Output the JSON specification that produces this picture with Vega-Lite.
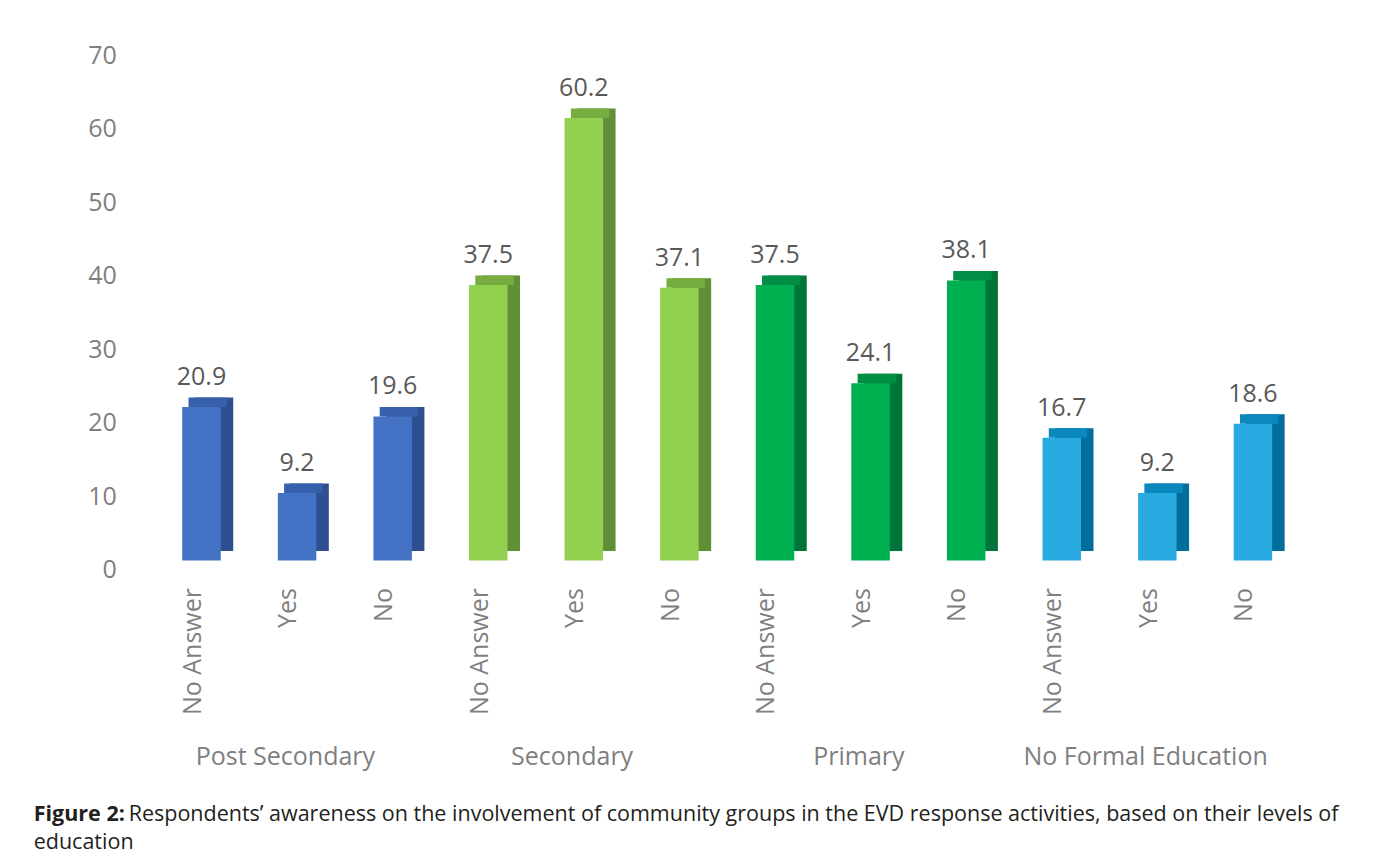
{
  "$schema": "https://vega.github.io/schema/vega-lite/v6.json",
  "width": 1147,
  "height": 514.5,
  "padding": {"left": 33, "top": 43, "right": 10, "bottom": 10},
  "background": "white",
  "config": {"view": {"stroke": null}, "font": "Open Sans"},
  "title": {
    "text": "Figure 2:",
    "subtitle": ["\u200b\u00a0\u00a0\u00a0\u00a0\u00a0\u00a0\u00a0\u00a0\u00a0\u00a0\u00a0\u00a0\u00a0\u00a0\u00a0\u00a0\u00a0Respondents’ awareness on the involvement of community groups in the EVD response activities, based on their levels of", "education"],
    "orient": "bottom",
    "anchor": "start",
    "frame": "bounds",
    "font": "Open Sans",
    "fontSize": 21.5,
    "fontWeight": "bold",
    "color": "#231F20",
    "subtitleFont": "Open Sans",
    "subtitleFontSize": 21.5,
    "subtitleFontWeight": "normal",
    "subtitleColor": "#231F20",
    "subtitlePadding": -21.5,
    "subtitleLineHeight": 28,
    "offset": 35,
    "dx": -54
  },
  "data": {
    "values": [
      {"bar": "Post Secondary: No Answer", "group": "Post Secondary", "answer": "No Answer", "value": 20.9},
      {"bar": "Post Secondary: Yes", "group": "Post Secondary", "answer": "Yes", "value": 9.2},
      {"bar": "Post Secondary: No", "group": "Post Secondary", "answer": "No", "value": 19.6},
      {"bar": "Secondary: No Answer", "group": "Secondary", "answer": "No Answer", "value": 37.5},
      {"bar": "Secondary: Yes", "group": "Secondary", "answer": "Yes", "value": 60.2},
      {"bar": "Secondary: No", "group": "Secondary", "answer": "No", "value": 37.1},
      {"bar": "Primary: No Answer", "group": "Primary", "answer": "No Answer", "value": 37.5},
      {"bar": "Primary: Yes", "group": "Primary", "answer": "Yes", "value": 24.1},
      {"bar": "Primary: No", "group": "Primary", "answer": "No", "value": 38.1},
      {"bar": "No Formal Education: No Answer", "group": "No Formal Education", "answer": "No Answer", "value": 16.7},
      {"bar": "No Formal Education: Yes", "group": "No Formal Education", "answer": "Yes", "value": 9.2},
      {"bar": "No Formal Education: No", "group": "No Formal Education", "answer": "No", "value": 18.6}
    ]
  },
  "encoding": {
    "y": {
      "field": "value",
      "type": "quantitative",
      "scale": {"domain": [0, 70], "nice": false, "zero": true},
      "axis": {
        "title": null,
        "values": [0, 10, 20, 30, 40, 50, 60, 70],
        "grid": false,
        "domain": false,
        "ticks": false,
        "tickSize": 0,
        "labelPadding": 43.7,
        "labelOffset": 9,
        "labelFont": "Open Sans",
        "labelFontSize": 25,
        "labelColor": "#7F7F7F"
      }
    }
  },
  "layer": [
    {
      "mark": {"type": "bar", "width": 38.5, "xOffset": 6.2, "yOffset": -9.5, "y2Offset": -9.5},
      "encoding": {
        "x": {"field": "bar", "type": "nominal", "sort": null, "scale": {"paddingInner": 0, "paddingOuter": 0}, "axis": null},
        "color": {
          "field": "group", "type": "nominal", "legend": null,
          "scale": {"domain": ["Post Secondary", "Secondary", "Primary", "No Formal Education"], "range": ["#2E5090", "#5F8F36", "#00753A", "#006E9C"]}
        }
      }
    },
    {
      "mark": {"type": "bar", "width": 38.5, "xOffset": 0, "yOffset": -9.5, "y2Offset": 0},
      "encoding": {
        "x": {"field": "bar", "type": "nominal", "sort": null, "scale": {"paddingInner": 0, "paddingOuter": 0}, "axis": null},
        "y2": {"field": "value"},
        "color": {
          "field": "group", "type": "nominal", "legend": null,
          "scale": {"domain": ["Post Secondary", "Secondary", "Primary", "No Formal Education"], "range": ["#3760AC", "#76AC40", "#008E45", "#0A88BE"]}
        }
      }
    },
    {
      "mark": {"type": "bar", "width": 38.5, "xOffset": -6.3},
      "encoding": {
        "x": {
          "field": "bar", "type": "nominal", "sort": null,
          "scale": {"paddingInner": 0, "paddingOuter": 0},
          "axis": {
            "orient": "bottom",
            "title": null,
            "domain": false,
            "ticks": false,
            "tickSize": 0,
            "labelAngle": -90,
            "labelPadding": 27,
            "labelOffset": -15,
            "labelFont": "Open Sans",
            "labelFontSize": 25,
            "labelColor": "#7F7F7F",
            "labelOverlap": false,
            "labelBound": false,
            "labelExpr": "split(datum.label, ': ')[1]"
          }
        },
        "color": {
          "field": "group", "type": "nominal", "legend": null,
          "scale": {"domain": ["Post Secondary", "Secondary", "Primary", "No Formal Education"], "range": ["#4472C4", "#92D050", "#00B050", "#29ABE2"]}
        }
      }
    },
    {
      "mark": {"type": "text", "xOffset": -6.3, "dy": -22, "baseline": "alphabetic", "align": "center", "font": "Open Sans", "fontSize": 25, "color": "#595959"},
      "encoding": {
        "x": {
          "field": "bar", "type": "nominal", "sort": null,
          "scale": {"paddingInner": 0, "paddingOuter": 0},
          "axis": {
            "orient": "bottom",
            "title": null,
            "domain": false,
            "ticks": false,
            "tickSize": 0,
            "labelAngle": 0,
            "labelPadding": 183.7,
            "labelOffset": -18,
            "labelFont": "Open Sans",
            "labelFontSize": 25,
            "labelColor": "#7F7F7F",
            "labelLimit": 500,
            "labelOverlap": false,
            "labelBound": false,
            "labelFlush": false,
            "labelExpr": "indexof(datum.label, ': Yes') >= 0 ? split(datum.label, ': ')[0] : ''"
          }
        },
        "text": {"field": "value", "type": "quantitative", "format": ".1f"}
      }
    }
  ],
  "resolve": {"scale": {"color": "independent"}, "axis": {"x": "independent"}}
}
